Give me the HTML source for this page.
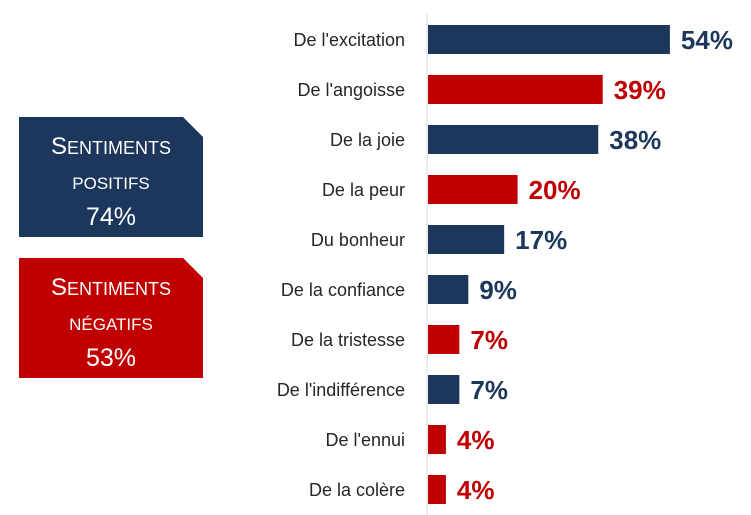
<!DOCTYPE html>
<html><head><meta charset="utf-8"><style>
body{margin:0;width:751px;height:515px;background:#fff;overflow:hidden;font-family:"Liberation Sans",sans-serif;position:relative}
.box{position:absolute;left:19px;width:184px;height:120px;color:#fff;text-align:center;clip-path:polygon(0 0,164px 0,184px 20px,184px 100%,0 100%)}
.box div{position:absolute;left:0;right:0}
.l1{top:16px;font-size:18px}.l1 b{font-weight:normal;font-size:24px}
.l2{top:57px;font-size:17px}
.l3{top:86px;font-size:25px}
</style></head><body>
<div class="box" style="top:117px;background:#1d375c">
<div class="l1"><b>S</b>ENTIMENTS</div>
<div class="l2">POSITIFS</div>
<div class="l3">74%</div></div>
<div class="box" style="top:258px;background:#c00000">
<div class="l1"><b>S</b>ENTIMENTS</div>
<div class="l2">NÉGATIFS</div>
<div class="l3">53%</div></div>
<svg id="chart" width="751" height="515" style="position:absolute;left:0;top:0"></svg>
<script>
const categories=["De l'excitation","De l'angoisse","De la joie","De la peur","Du bonheur","De la confiance","De la tristesse","De l'indifférence","De l'ennui","De la colère"];
const values=[54,39,38,20,17,9,7,7,4,4];
const polarity=["pos","neg","pos","neg","pos","pos","neg","pos","neg","neg"];
const colors={pos:"#1d375c",neg:"#c00000"};
const x0=428,pxPer=4.48;
const xScale=v=>x0+v*pxPer;
const yCenter=i=>40+i*50;
const svg=document.getElementById('chart');
const NS="http://www.w3.org/2000/svg";
const axis=document.createElementNS(NS,'line');


axis.setAttribute('x1',427);axis.setAttribute('x2',427);axis.setAttribute('y1',14);axis.setAttribute('y2',515);
axis.setAttribute('stroke','#d9d9d9');axis.setAttribute('stroke-width','1');
svg.appendChild(axis);
categories.forEach((c,i)=>{
 const cy=yCenter(i),col=colors[polarity[i]];
 const r=document.createElementNS(NS,'rect');
 
 
 r.setAttribute('x',x0);r.setAttribute('y',cy-15);r.setAttribute('width',xScale(values[i])-x0);r.setAttribute('height',29);r.setAttribute('fill',col);
 svg.appendChild(r);
 const t=document.createElementNS(NS,'text');
 
 
 t.setAttribute('x',405);t.setAttribute('y',cy+6);t.setAttribute('text-anchor','end');t.setAttribute('font-size','18');t.setAttribute('fill','#262626');
 t.textContent=c;svg.appendChild(t);
 const v=document.createElementNS(NS,'text');
 
 
 v.setAttribute('x',xScale(values[i])+11);v.setAttribute('y',cy+9);v.setAttribute('font-size','26');v.setAttribute('font-weight','bold');v.setAttribute('fill',col);
 v.textContent=values[i]+'%';svg.appendChild(v);
});
</script>
</body></html>
